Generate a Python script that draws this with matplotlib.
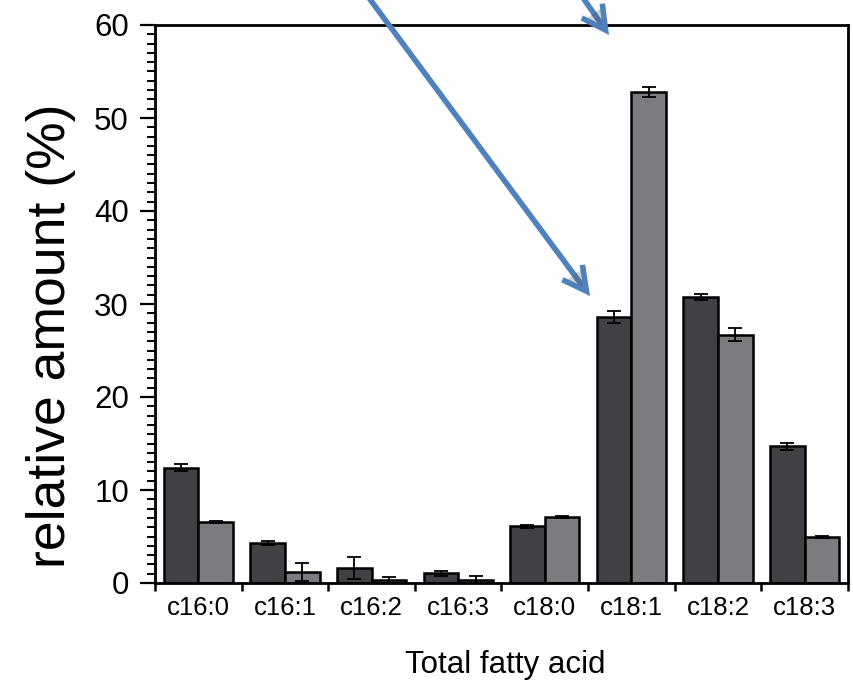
import numpy as np
import matplotlib
matplotlib.use("Agg")
import matplotlib.pyplot as plt
from matplotlib.patches import FancyArrowPatch
from matplotlib.ticker import MultipleLocator
import matplotlib.patheffects as pe

plt.rcParams['font.family'] = ['Liberation Sans', 'DejaVu Sans']

fatty_acids = ['c16:0', 'c16:1', 'c16:2', 'c16:3', 'c18:0', 'c18:1', 'c18:2', 'c18:3']
group1 = [12.4, 4.3, 1.6, 1.05, 6.1, 28.6, 30.75, 14.7]
group1_err = [0.4, 0.25, 1.2, 0.25, 0.15, 0.65, 0.3, 0.4]
group2 = [6.6, 1.2, 0.3, 0.3, 7.1, 52.8, 26.7, 4.95]
group2_err = [0.1, 0.95, 0.3, 0.45, 0.1, 0.55, 0.7, 0.1]

W, H = 854, 681
fig = plt.figure(figsize=(W / 100, H / 100), dpi=100)
ax = fig.add_axes([155 / W, 1 - 583 / H, (848 - 155) / W, (583 - 25) / H])

x = np.arange(len(fatty_acids))
bw = 0.40
err_kw = dict(ecolor='black', elinewidth=1.3, capsize=5, capthick=1.3)
ax.bar(x - bw / 2, group1, bw, yerr=group1_err, color='#404144',
       edgecolor='black', linewidth=1.8, error_kw=err_kw, zorder=2)
ax.bar(x + bw / 2, group2, bw, yerr=group2_err, color='#7c7b80',
       edgecolor='black', linewidth=1.8, error_kw=err_kw, zorder=2)

ax.set_xlim(-0.5, len(fatty_acids) - 0.5)
ax.set_ylim(0, 60)

# labels sit at the category centres, ticks at the boundaries
ax.set_xticks(x)
ax.set_xticklabels(fatty_acids, fontsize=18.5)
ax.set_xticks(np.arange(len(fatty_acids) + 1) - 0.5, minor=True)
ax.tick_params(axis='x', which='major', length=0, pad=9.5)
ax.tick_params(axis='x', which='minor', direction='out', length=6, width=1.8)

ax.yaxis.set_major_locator(MultipleLocator(10))
ax.yaxis.set_minor_locator(MultipleLocator(1))
ax.tick_params(axis='y', which='major', direction='out', length=10.8, width=1.6,
               labelsize=22.5, pad=8)
ax.tick_params(axis='y', which='minor', direction='out', length=5.8, width=1.4)

for s in ax.spines.values():
    s.set_linewidth(2.0)

fig.text(51 / W, 1 - 336 / H, 'relative amount (%)', rotation=90,
         ha='center', va='center', fontsize=38.5)
fig.text(505 / W, 1 - 673 / H, 'Total fatty acid', ha='center',
         va='baseline', fontsize=22.5)

# pointer arrows
shadow = [pe.SimplePatchShadow(offset=(1.5, -1.5), alpha=0.25), pe.Normal()]
for (x0, y0), (x1, y1) in [((369, -2), (590, 296)), ((581, -5), (609, 35))]:
    arr = FancyArrowPatch((x0 / W, 1 - y0 / H), (x1 / W, 1 - y1 / H),
                          transform=fig.transFigure,
                          arrowstyle='->,head_length=0.85,head_width=0.45',
                          mutation_scale=20, color='#4f81bd', linewidth=4,
                          capstyle='butt', joinstyle='miter', zorder=10,
                          shrinkA=0, shrinkB=0)
    arr.set_path_effects(shadow)
    fig.add_artist(arr)

fig.savefig('out.png', dpi=100)
